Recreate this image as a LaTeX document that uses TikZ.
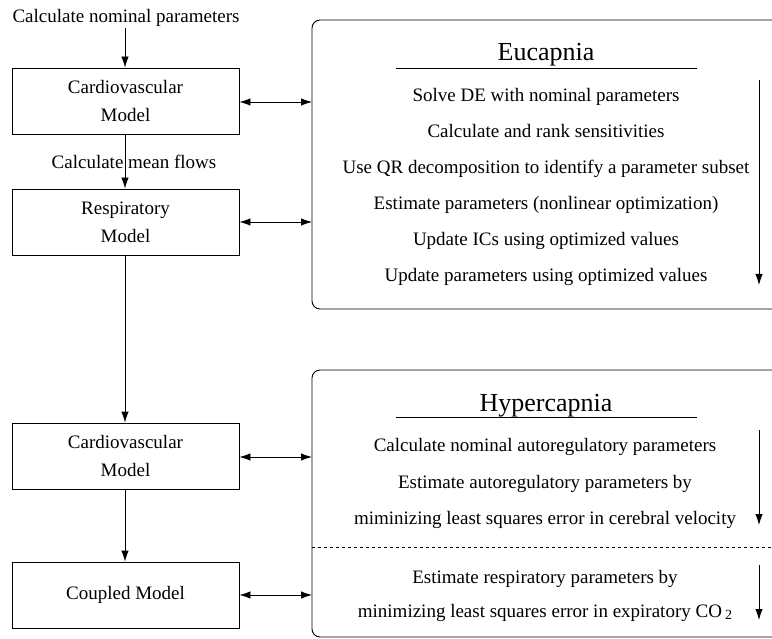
\documentclass[tikz,border=0pt]{standalone}
\usepackage{fontspec}
\setmainfont{Liberation Serif}
\usetikzlibrary{arrows.meta}
\begin{document}
\begin{tikzpicture}[x=1pt,y=-1pt,
  every node/.style={font=\fontsize{19}{28}\selectfont, inner sep=0pt},
  model/.style={draw, line width=0.9pt, minimum width=227pt, minimum height=66pt, align=center},
  panel/.style={draw, line width=0.9pt, rounded corners=8pt},
  item/.style={anchor=base},
  ttl/.style={font=\fontsize{26}{30}\selectfont, anchor=base},
  arr/.style={line width=0.9pt, -{Latex[length=11pt,width=7.5pt]}},
  darr/.style={line width=0.9pt, {Latex[length=11pt,width=7.5pt]}-{Latex[length=11pt,width=7.5pt]}}]
\useasboundingbox (0,0) rectangle (772,639);
\clip (0,0) rectangle (772,639);
% left column
\node[anchor=base] (calc) at (126,23) {Calculate nominal parameters};
\node[model] (cv1) at (125.5,101) {Cardiovascular\\Model};
\node[model] (resp) at (125.5,222) {Respiratory\\Model};
\node[model] (cv2) at (125.5,456) {Cardiovascular\\Model};
\node[model] (coup) at (125.5,595) {Coupled Model};
\node[anchor=base] (mean) at (134,169) {Calculate mean flows};
\draw[arr] (125,28) -- (cv1.north -| 125,0);
\draw[arr] (cv1.south -| 125,0) -- (resp.north -| 125,0);
\draw[arr] (resp.south -| 125,0) -- (cv2.north -| 125,0);
\draw[arr] (cv2.south -| 125,0) -- (coup.north -| 125,0);
% panels
\draw[panel] (312,20) rectangle (800,309);
\draw[panel] (312,370) rectangle (800,637);
\coordinate (pe1) at (312,102);
\coordinate (pe2) at (312,222);
\coordinate (ph1) at (312,457);
\coordinate (ph2) at (312,595);
\draw[darr] (cv1.east |- pe1) -- (pe1);
\draw[darr] (resp.east |- pe2) -- (pe2);
\draw[darr] (cv2.east |- ph1) -- (ph1);
\draw[darr] (coup.east |- ph2) -- (ph2);
% Eucapnia
\node[ttl] (eu) at (546,61) {Eucapnia};
\draw[line width=0.9pt] (396,68) -- (697,68);
\node[item] (e1) at (546,102) {Solve DE with nominal parameters};
\node[item] (e2) at (546,138) {Calculate and rank sensitivities};
\node[item] (e3) at (546,174) {Use QR decomposition to identify a parameter subset};
\node[item] (e4) at (546,210) {Estimate parameters (nonlinear optimization)};
\node[item] (e5) at (546,246) {Update ICs using optimized values};
\node[item] (e6) at (546,282) {Update parameters using optimized values};
\coordinate (ea1) at (759,80);
\coordinate (ea2) at (759,285);
\draw[arr] (ea1) -- (ea2);
% Hypercapnia
\node[ttl] (hy) at (546,411) {Hypercapnia};
\draw[line width=0.9pt] (396,417) -- (697,417);
\node[item] (h1) at (545,451) {Calculate nominal autoregulatory parameters};
\node[item] (h2) at (545,488) {Estimate autoregulatory parameters by};
\node[item] (h3) at (545,524) {miminizing least squares error in cerebral velocity};
\draw[line width=0.7pt, dashed] (312,547) -- (772,547);
\node[item] (h4) at (545,583) {Estimate respiratory parameters by};
\node[item] (h5) at (545,617) {minimizing least squares error in expiratory CO\,\raisebox{-0.3ex}{\fontsize{14}{16}\selectfont 2}};
\coordinate (ha1) at (759,430);
\coordinate (ha2) at (759,525);
\coordinate (ha3) at (759,565);
\coordinate (ha4) at (759,620);
\draw[arr] (ha1) -- (ha2);
\draw[arr] (ha3) -- (ha4);
\end{tikzpicture}
\end{document}
